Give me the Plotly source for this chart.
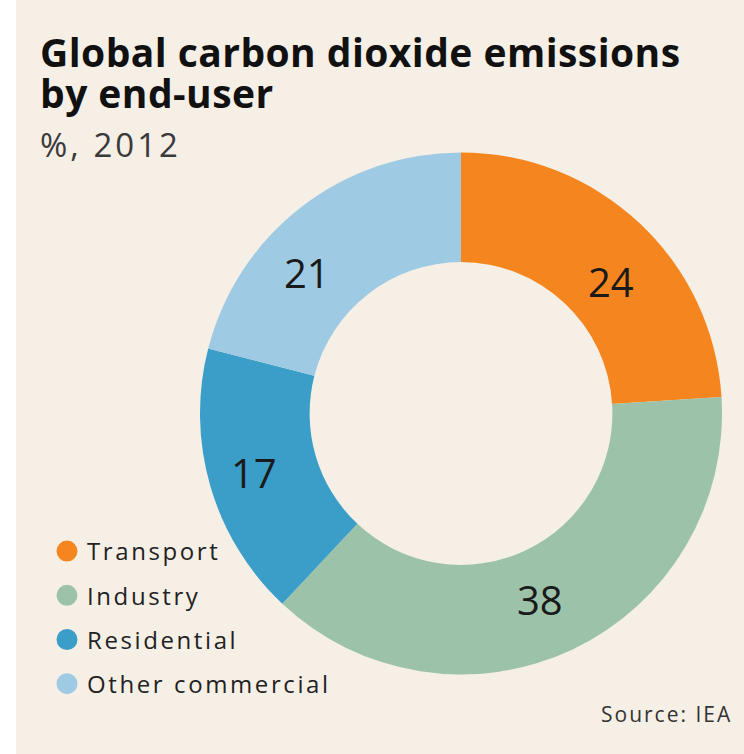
import plotly.graph_objects as go

# ---- data ----
categories = ["Transport", "Industry", "Residential", "Other commercial"]
values = [24, 38, 17, 21]
colors = ["#F5861F", "#9CC3A9", "#3A9EC8", "#9ECAE3"]

title_line1 = "Global carbon dioxide emissions"
title_line2 = "by end-user"
subtitle = "%, 2012"
source = "Source: IEA"

# ---- layout constants (pixels) ----
W, H = 744, 754
cx, cy, R = 461, 413.5, 261
label_px = [(611, 281), (540, 599), (254, 472), (307, 272)]
BG = "#F6EFE6"


def px(x):
    return x / W


def py(y):
    return 1 - y / H


def spaced(text, ls):
    return f'<span style="letter-spacing:{ls}px">{text}</span>'


fig = go.Figure()

fig.add_trace(go.Pie(
    labels=categories,
    values=values,
    hole=0.58,
    sort=False,
    direction="clockwise",
    rotation=0,
    marker=dict(colors=colors, line=dict(width=0)),
    textinfo="none",
    showlegend=False,
    domain=dict(x=[px(cx - R), px(cx + R)], y=[py(cy + R), py(cy - R)]),
))

# legend entries with round markers
for i, (name, col) in enumerate(zip(categories, colors)):
    fig.add_trace(go.Scatter(
        x=[None], y=[None], mode="markers", name=spaced(name, 2.6),
        legendgroup=f"g{i}",
        marker=dict(symbol="circle", size=16, color=col,
                    line=dict(color=col, width=5)),
    ))

annotations = []
for (lx, ly), v in zip(label_px, values):
    annotations.append(dict(
        x=px(lx), y=py(ly), xref="paper", yref="paper",
        text=str(v), showarrow=False, xanchor="center", yanchor="middle",
        font=dict(family="Open Sans", size=40, color="#1a1a1a"),
    ))

annotations += [
    dict(x=px(38), y=py(51.9), xref="paper", yref="paper",
         text=spaced(f"<b>{title_line1}</b>", 0.45), showarrow=False,
         xanchor="left", yanchor="middle",
         font=dict(family="Open Sans", size=39, color="#111111")),
    dict(x=px(38), y=py(92.4), xref="paper", yref="paper",
         text=spaced(f"<b>{title_line2}</b>", 0.45), showarrow=False,
         xanchor="left", yanchor="middle",
         font=dict(family="Open Sans", size=39, color="#111111")),
    dict(x=px(38), y=py(144.2), xref="paper", yref="paper",
         text=spaced(subtitle, 3), showarrow=False,
         xanchor="left", yanchor="middle",
         font=dict(family="Open Sans", size=33, color="#3a3a3a")),
    dict(x=px(734), y=py(713.9), xref="paper", yref="paper",
         text=spaced(source, 2), showarrow=False,
         xanchor="right", yanchor="middle",
         font=dict(family="Open Sans", size=21, color="#333333")),
]

fig.update_layout(
    width=W, height=H,
    margin=dict(l=0, r=0, t=0, b=0),
    paper_bgcolor="white",
    plot_bgcolor="rgba(0,0,0,0)",
    xaxis=dict(visible=False),
    yaxis=dict(visible=False),
    showlegend=True,
    legend=dict(
        x=px(47), y=py(529), xanchor="left", yanchor="top",
        bgcolor="rgba(0,0,0,0)", borderwidth=0,
        font=dict(family="Open Sans", size=24, color="#222222"),
        tracegroupgap=10, itemclick=False, itemdoubleclick=False,
    ),
    annotations=annotations,
    shapes=[dict(type="rect", xref="paper", yref="paper",
                 x0=px(16), x1=1, y0=0, y1=1,
                 fillcolor=BG, line=dict(width=0), layer="below")],
)

fig.write_html("out.html")
